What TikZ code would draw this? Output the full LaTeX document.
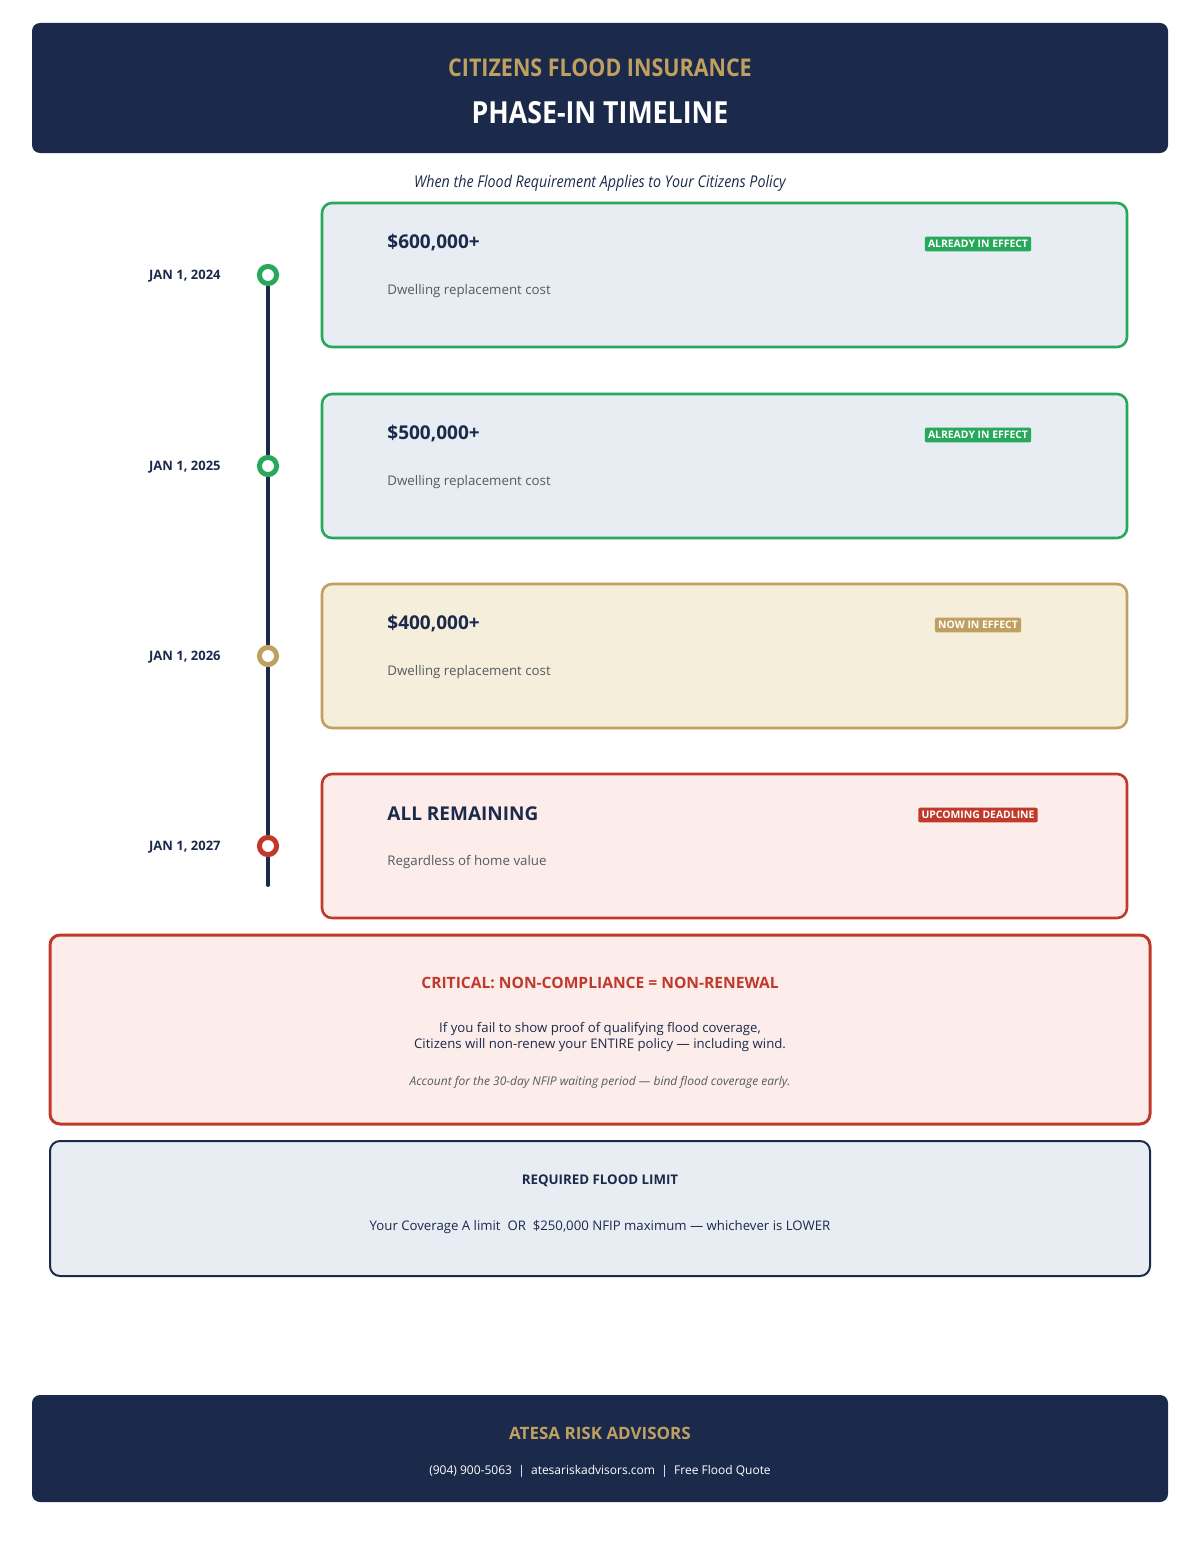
\documentclass[tikz,border=0pt]{standalone}
\usepackage{fontspec}
\IfFontExistsTF{Noto Sans Bold}{%
  \setmainfont{Noto Sans}[BoldFont={Noto Sans Bold}, BoldItalicFont={Noto Sans Bold Italic}]
  \newfontfamily\narrowfont{Noto Sans}[FakeStretch=0.88, BoldFont={Noto Sans Bold}]
}{%
  \setmainfont{Open Sans}
  \newfontfamily\narrowfont{Open Sans}[FakeStretch=0.88]
}
\usepackage{tikz}
\usetikzlibrary{positioning}

\definecolor{navy}{HTML}{1B2A4A}
\definecolor{gold}{HTML}{C0A060}
\definecolor{effgreen}{HTML}{27A85A}
\definecolor{alertred}{HTML}{C0392B}
\definecolor{cardblue}{HTML}{E8EDF3}
\definecolor{cardcream}{HTML}{F5EEDB}
\definecolor{cardpink}{HTML}{FCEDEB}
\definecolor{textgray}{HTML}{555A60}

\begin{document}
\begin{tikzpicture}[
            x=0.5pt, y=-0.5pt,
            every node/.style={inner sep=0pt},
            banner/.style={rectangle, rounded corners=4pt, fill=navy},
            card/.style={rectangle, rounded corners=5pt, line width=1.3pt, minimum width=402.5pt, minimum height=72pt},
            panel/.style={rectangle, rounded corners=5pt, minimum width=550pt},
            amount/.style={anchor=west, text=navy, font=\fontsize{9.5}{12}\selectfont\bfseries},
            descr/.style={anchor=west, text=textgray, font=\fontsize{6.65}{8}\selectfont},
            badge/.style={rectangle, rounded corners=1pt, text=white, inner xsep=1.6pt, inner ysep=1.8pt, font=\fontsize{5.2}{6}\selectfont\bfseries},
            datelabel/.style={anchor=east, text=navy, font=\fontsize{6.5}{8}\selectfont\bfseries},
            dot/.style={circle, draw=#1, fill=white, line width=2.5pt, minimum size=8.6pt}
        ]
            \useasboundingbox (0,0) rectangle (1200,1541);

            % header
            \node[banner, minimum width=568pt, minimum height=65pt] (header) at (600,88) {};
            \node[text=gold, font=\narrowfont\fontsize{12.2}{14}\selectfont\bfseries] (brand) at (600,68) {CITIZENS FLOOD INSURANCE};
            \node[text=white, font=\narrowfont\fontsize{15.2}{18}\selectfont\bfseries] (title) at (600,113) {PHASE-IN TIMELINE};
            \node[text=navy, font=\narrowfont\fontsize{8.1}{10}\selectfont\itshape] (subtitle) at (600,183) {When the Flood Requirement Applies to Your Citizens Policy};

            % timeline cards
            \foreach \i/\y/\amt/\desc/\badgetext/\col/\bg/\date in {
                1/275/{\$600,000+}/{Dwelling replacement cost}/{ALREADY IN EFFECT}/effgreen/cardblue/{JAN 1, 2024},
                2/466/{\$500,000+}/{Dwelling replacement cost}/{ALREADY IN EFFECT}/effgreen/cardblue/{JAN 1, 2025},
                3/656/{\$400,000+}/{Dwelling replacement cost}/{NOW IN EFFECT}/gold/cardcream/{JAN 1, 2026},
                4/846/{ALL REMAINING}/{Regardless of home value}/{UPCOMING DEADLINE}/alertred/cardpink/{JAN 1, 2027}} {
                \node[card, draw=\col, fill=\bg] (card\i) at (724.5,\y) {};
                \node[amount] (amt\i) at (387,\y-32) {\amt};
                \node[descr] (desc\i) at (387,\y+16) {\desc};
                \node[badge, fill=\col] (badge\i) at (978,\y-31) {\badgetext};
                \node[datelabel] (date\i) at (221,\y+1) {\date};
                \coordinate (pin\i) at (268,\y);
            }

            % timeline spine
            \coordinate (spineend) at (268,885);
            \draw[navy, line width=2pt, line cap=round] (pin1) -- (spineend);
            \node[dot=effgreen] (dot1) at (pin1) {};
            \node[dot=effgreen] (dot2) at (pin2) {};
            \node[dot=gold] (dot3) at (pin3) {};
            \node[dot=alertred] (dot4) at (pin4) {};

            % warning panel
            \node[panel, draw=alertred, fill=cardpink, line width=1.5pt, minimum height=94.5pt] (warning) at (600,1029.5) {};
            \node[text=alertred, font=\fontsize{7.8}{10}\selectfont\bfseries] (warntitle) at (600,983) {CRITICAL: NON-COMPLIANCE = NON-RENEWAL};
            \node[text=navy, align=center, font=\fontsize{6.6}{7.6}\selectfont] (warntext) at (600,1037) {If you fail to show proof of qualifying flood coverage,\\Citizens will non-renew your ENTIRE policy --- including wind.};
            \node[text=textgray, font=\fontsize{6}{7}\selectfont\itshape] (warnnote) at (600,1082) {Account for the 30-day NFIP waiting period --- bind flood coverage early.};

            % limit panel
            \node[panel, draw=navy, fill=cardblue, line width=1pt, minimum height=67.5pt] (limit) at (600,1208.5) {};
            \node[text=navy, font=\fontsize{6.65}{8}\selectfont\bfseries] (limittitle) at (600,1181) {REQUIRED FLOOD LIMIT};
            \node[text=navy, font=\fontsize{6.6}{8}\selectfont] (limittext) at (600,1227) {Your Coverage A limit\ \ OR\ \ \$250,000 NFIP maximum --- whichever is LOWER};

            % footer
            \node[banner, minimum width=568pt, minimum height=53.5pt] (footer) at (600,1448.5) {};
            \node[text=gold, font=\fontsize{8.5}{10}\selectfont\bfseries] (firm) at (600,1433) {ATESA RISK ADVISORS};
            \node[text=white, font=\fontsize{6}{8}\selectfont] (contact) at (600,1471) {(904) 900-5063\ \ |\ \ atesariskadvisors.com\ \ |\ \ Free Flood Quote};
        \end{tikzpicture}
\end{document}
